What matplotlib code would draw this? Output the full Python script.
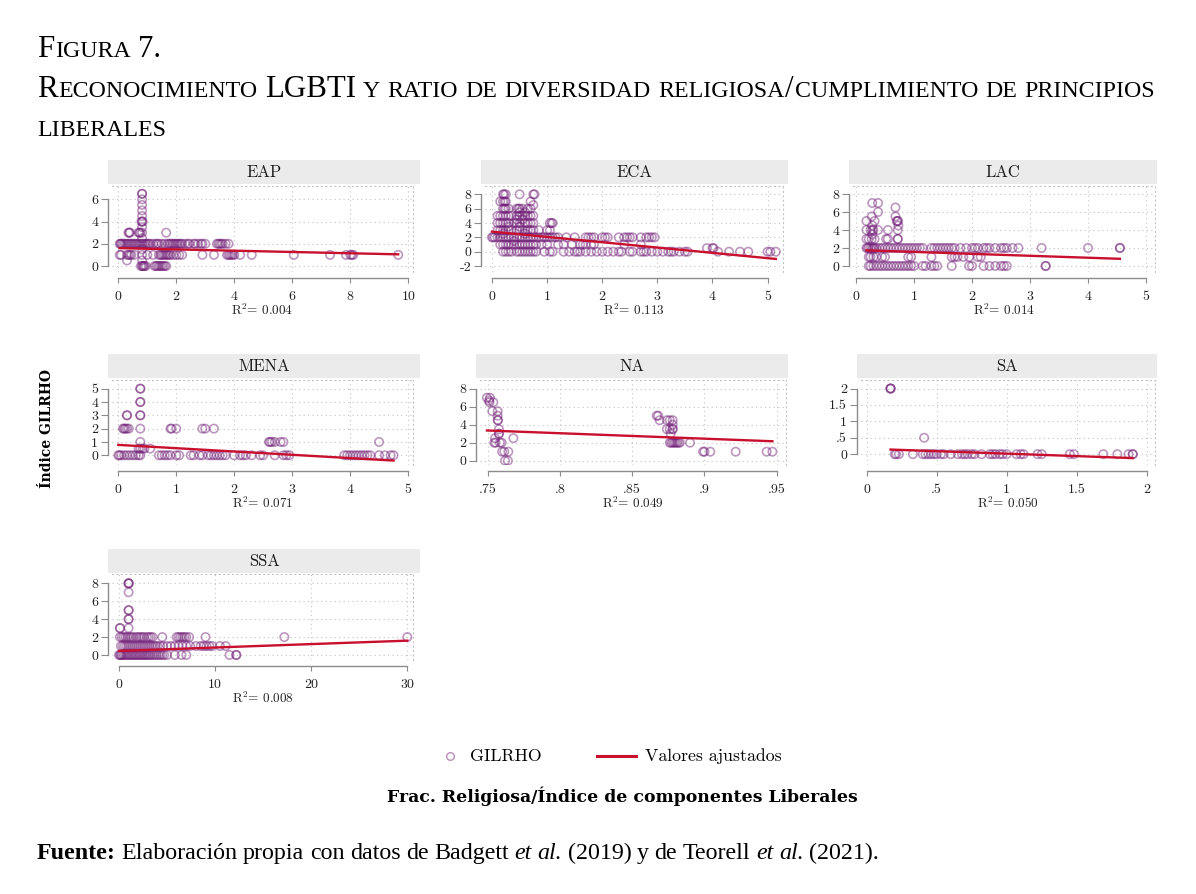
import matplotlib
matplotlib.use('Agg')
import matplotlib.pyplot as plt
from matplotlib.lines import Line2D
from matplotlib.patches import Rectangle

plt.rcParams['mathtext.fontset'] = 'cm'
plt.rcParams['axes.unicode_minus'] = False

W, H = 1196, 894

# ---------------- data ----------------
panels = ['EAP', 'ECA', 'LAC', 'MENA', 'NA', 'SA', 'SSA']
r2_values = ['0.004', '0.113', '0.014', '0.071', '0.049', '0.050', '0.008']

# fitted line: y = a + b*x
fit_a = [1.61, 2.80, 1.78, 0.78, 7.90, 0.166, 0.45]
fit_b = [-0.058, -0.74, -0.216, -0.248, -6.06, -0.15, 0.0383]

# points as (y level, [x values]); repeated x = overlapping observations
eap_rows = [
    (6.5, [0.82, 0.82]), (6.0, [0.82]), (5.5, [0.82]), (5.0, [0.82]),
    (4.5, [0.82]), (4.0, [0.80, 0.82, 0.84]), (3.5, [0.82]),
    (3.0, [0.35, 0.38, 0.40, 0.70, 0.73, 0.76, 0.82, 1.65]), (2.5, [0.82]),
    (2.0, [0.05, 0.08, 0.1, 0.15, 0.2, 0.25, 0.3, 0.35, 0.4, 0.45, 0.5, 0.55,
           0.6, 0.65, 0.7, 0.75, 0.8, 0.85, 0.9, 0.95, 1.0, 1.05, 1.1, 1.2, 1.3,
           1.35, 1.4, 1.5, 1.6, 1.7, 1.75, 1.8, 1.85, 1.9, 1.95, 2.0, 2.05, 2.1,
           2.15, 2.2, 2.3, 2.4, 2.45, 2.6, 2.65, 2.75, 2.85, 2.9, 3.0, 3.4, 3.45,
           3.5, 3.55, 3.6, 3.7, 3.8]),
    (1.5, [0.82]),
    (1.0, [0.05, 0.1, 0.3, 0.35, 0.4, 0.45, 0.55, 0.82, 1.0, 1.2, 1.4, 1.45,
           1.5, 1.55, 1.6, 1.65, 1.7, 1.75, 1.8, 1.9, 2.0, 2.1, 2.2, 2.9, 3.3,
           3.75, 3.8, 3.85, 3.9, 3.95, 4.0, 4.2, 4.6, 6.05, 7.3, 7.85, 8.0, 8.05,
           8.1, 9.65]),
    (0.5, [0.3, 0.82]),
    (0.0, [0.78, 0.82, 0.85, 0.88, 0.9, 0.95, 1.25, 1.3, 1.35, 1.4, 1.45, 1.5,
           1.55, 1.6, 1.65]),
]
eca_rows = [
    (8, [0.2, 0.22, 0.25, 0.5, 0.75, 0.77]), (7, [0.15, 0.2, 0.23, 0.25, 0.7]),
    (6.5, [0.75]),
    (6, [0.2, 0.23, 0.25, 0.3, 0.45, 0.48, 0.5, 0.55, 0.65, 0.7]),
    (5.5, [0.5, 0.6]),
    (5, [0.1, 0.15, 0.2, 0.25, 0.3, 0.35, 0.45, 0.5, 0.55, 0.6, 0.65, 0.7, 0.75]),
    (4.5, [0.45, 0.55]),
    (4, [0.1, 0.15, 0.2, 0.25, 0.3, 0.4, 0.45, 0.5, 0.6, 0.65, 0.7, 0.75, 1.05,
         1.08, 1.1]),
    (3.5, [0.3, 0.5]),
    (3, [0.1, 0.15, 0.2, 0.25, 0.3, 0.35, 0.45, 0.5, 0.55, 0.6, 0.65, 0.7, 0.75,
         0.85, 1.0, 1.05]),
    (2.5, [0.2, 0.6]),
    (2, [0.0, 0.02, 0.05, 0.1, 0.15, 0.2, 0.25, 0.3, 0.35, 0.4, 0.45, 0.5, 0.55,
         0.6, 0.65, 0.7, 0.75, 0.8, 0.85, 0.9, 0.95, 1.0, 1.05, 1.1, 1.15, 1.2,
         1.35, 1.5, 1.7, 1.75, 1.8, 1.85, 2.0, 2.05, 2.1, 2.3, 2.4, 2.45, 2.5,
         2.55, 2.7, 2.8, 2.85, 2.9, 2.95]),
    (1.5, [0.4]),
    (1, [0.15, 0.2, 0.25, 0.3, 0.35, 0.4, 0.45, 0.5, 0.55, 0.6, 0.65, 0.7, 0.75,
         0.8, 0.9, 1.0, 1.2, 1.3, 1.45, 1.6, 1.65, 1.7, 1.8, 1.85, 2.4, 2.7]),
    (0.5, [3.9, 4.0, 4.02]),
    (0, [0.2, 0.25, 0.3, 0.35, 0.45, 0.5, 0.55, 0.6, 0.65, 0.7, 0.75, 0.8, 0.95,
         1.05, 1.1, 1.3, 1.4, 1.5, 1.55, 1.6, 1.7, 1.8, 1.9, 2.0, 2.1, 2.2, 2.3,
         2.35, 2.5, 2.55, 2.7, 2.75, 2.8, 2.9, 3.0, 3.1, 3.2, 3.25, 3.3, 3.4, 3.5,
         3.55, 4.1, 4.3, 4.5, 4.65, 5.0, 5.05, 5.15]),
]
lac_rows = [
    (7, [0.28, 0.38]), (6.5, [0.68]), (6, [0.38]), (5.5, [0.27, 0.68]),
    (5, [0.18, 0.32, 0.7, 0.72, 0.72]), (4.5, [0.28, 0.73]),
    (4, [0.18, 0.25, 0.28, 0.3, 0.38, 0.55, 0.72]), (3.5, [0.28]),
    (3, [0.18, 0.22, 0.27, 0.32, 0.52, 0.55, 0.72, 0.72]),
    (2, [0.18, 0.2, 0.22, 0.25, 0.28, 0.3, 0.32, 0.35, 0.4, 0.45, 0.5, 0.55, 0.6,
         0.65, 0.7, 0.75, 0.8, 0.85, 0.9, 0.95, 1.0, 1.05, 1.1, 1.15, 1.3, 1.35,
         1.4, 1.45, 1.5, 1.55, 1.6, 1.65, 1.7, 1.8, 1.9, 2.0, 2.05, 2.1, 2.2,
         2.25, 2.3, 2.4, 2.5, 2.55, 2.6, 2.7, 2.8, 3.2, 4.0, 4.55, 4.55]),
    (1, [0.22, 0.25, 0.3, 0.35, 0.45, 0.5, 0.9, 0.95, 1.3, 1.65, 1.7, 1.75, 1.85,
         1.95, 2.1, 2.15]),
    (0, [0.22, 0.25, 0.3, 0.35, 0.4, 0.45, 0.5, 0.55, 0.6, 0.65, 0.7, 0.75, 0.8,
         0.85, 0.9, 0.95, 1.0, 1.15, 1.2, 1.3, 1.35, 1.4, 1.65, 1.95, 2.0, 2.2,
         2.3, 2.4, 2.5, 2.55, 2.6, 3.27, 3.27]),
]
mena_rows = [
    (5, [0.38, 0.38]), (4, [0.38, 0.38]), (3, [0.15, 0.15, 0.38, 0.38]),
    (2, [0.08, 0.1, 0.12, 0.15, 0.18, 0.38, 0.9, 0.92, 1.0, 1.45, 1.5, 1.65]),
    (1, [0.38, 2.6, 2.62, 2.65, 2.7, 2.8, 2.85, 4.5]),
    (0.5, [0.35, 0.38, 0.42, 0.45, 0.55]),
    (0, [0.0, 0.02, 0.05, 0.1, 0.15, 0.2, 0.25, 0.3, 0.35, 0.38, 0.7, 0.75, 0.8,
         0.85, 0.9, 1.0, 1.05, 1.25, 1.3, 1.4, 1.45, 1.55, 1.6, 1.65, 1.7, 1.75,
         1.8, 1.85, 2.0, 2.1, 2.15, 2.2, 2.3, 2.45, 2.5, 2.7, 2.85, 2.9, 2.95,
         3.9, 3.95, 4.0, 4.05, 4.1, 4.15, 4.2, 4.25, 4.3, 4.35, 4.5, 4.6, 4.7,
         4.75]),
]
na_rows = [
    (7, [0.7495, 0.7516]), (6.7, [0.751]), (6.5, [0.7512, 0.7539]),
    (5.5, [0.7532, 0.7569]), (5, [0.7569, 0.867, 0.868]),
    (4.5, [0.7569, 0.7572, 0.869, 0.874, 0.876, 0.878]), (4, [0.878]),
    (3.5, [0.7578, 0.874, 0.876, 0.878, 0.878]), (3, [0.7578, 0.7578, 0.8766]),
    (2.5, [0.7551, 0.7678]),
    (2, [0.7546, 0.7555, 0.7585, 0.7597, 0.876, 0.877, 0.878, 0.879, 0.880,
         0.881, 0.882, 0.883, 0.890]),
    (1, [0.760, 0.7615, 0.7643, 0.899, 0.900, 0.904, 0.9216, 0.943, 0.947]),
    (0, [0.762, 0.764]),
]
sa_rows = [
    (2, [0.17, 0.17, 0.17]), (0.5, [0.41]),
    (0, [0.2, 0.21, 0.23, 0.33, 0.4, 0.42, 0.44, 0.46, 0.48, 0.5, 0.53, 0.55,
         0.6, 0.65, 0.68, 0.7, 0.72, 0.75, 0.77, 0.82, 0.88, 0.9, 0.92, 0.95,
         0.97, 1.0, 1.07, 1.1, 1.12, 1.22, 1.25, 1.45, 1.48, 1.69, 1.79, 1.87,
         1.9, 1.9]),
]
ssa_rows = [
    (8, [1.0, 1.0, 1.0]), (7, [1.0]), (5, [1.0, 1.0]), (4, [1.0, 1.0]),
    (3, [0.1, 0.1, 1.0]),
    (2, [0.1, 0.3, 0.5, 0.7, 0.9, 1.1, 1.3, 1.5, 1.8, 2.0, 2.2, 2.4, 2.6, 2.9,
         3.1, 3.3, 3.5, 4.5, 6.0, 6.2, 6.4, 6.6, 6.8, 7.0, 7.3, 9.0, 17.2, 30.0]),
    (1, [0.2, 0.4, 0.6, 0.8, 1.0, 1.2, 1.4, 1.6, 1.8, 2.0, 2.2, 2.4, 2.6, 2.8,
         3.0, 3.2, 3.4, 3.6, 3.8, 4.0, 4.3, 4.6, 5.0, 5.4, 5.8, 6.2, 6.6, 7.0,
         7.4, 8.0, 8.5, 8.8, 9.1, 9.4, 9.7, 10.5, 11.1]),
    (0, [0.0, 0.1, 0.2, 0.3, 0.45, 0.6, 0.75, 0.9, 1.05, 1.2, 1.35, 1.5, 1.65,
         1.8, 1.95, 2.1, 2.25, 2.4, 2.55, 2.7, 2.85, 3.0, 3.15, 3.3, 3.5, 3.7,
         3.9, 4.1, 4.3, 4.5, 4.7, 5.0, 5.8, 6.5, 7.0, 11.5, 12.2, 12.2]),
]
panel_rows = [eap_rows, eca_rows, lac_rows, mena_rows, na_rows, sa_rows, ssa_rows]

x_ticks = [[0, 2, 4, 6, 8, 10], [0, 1, 2, 3, 4, 5], [0, 1, 2, 3, 4, 5],
           [0, 1, 2, 3, 4, 5], [0.75, 0.8, 0.85, 0.9, 0.95], [0, 0.5, 1, 1.5, 2],
           [0, 10, 20, 30]]
x_labels = [['0', '2', '4', '6', '8', '10'], ['0', '1', '2', '3', '4', '5'],
            ['0', '1', '2', '3', '4', '5'], ['0', '1', '2', '3', '4', '5'],
            ['.75', '.8', '.85', '.9', '.95'], ['0', '.5', '1', '1.5', '2'],
            ['0', '10', '20', '30']]
y_ticks = [[0, 2, 4, 6], [-2, 0, 2, 4, 6, 8], [0, 2, 4, 6, 8],
           [0, 1, 2, 3, 4, 5], [0, 2, 4, 6, 8], [0, 0.5, 1, 1.5, 2],
           [0, 2, 4, 6, 8]]
y_labels = [['0', '2', '4', '6'], ['-2', '0', '2', '4', '6', '8'],
            ['0', '2', '4', '6', '8'], ['0', '1', '2', '3', '4', '5'],
            ['0', '2', '4', '6', '8'], ['0', '.5', '1', '1.5', '2'],
            ['0', '2', '4', '6', '8']]
x_lims = [(-0.217, 10.16), (-0.127, 5.28), (-0.052, 5.155), (-0.109, 5.086),
          (0.7447, 0.9564), (-0.041, 2.059), (-0.73, 30.59)]
y_lims = [(-0.54, 7.2), (-2.83, 9.16), (-0.67, 8.89), (-0.73, 5.65),
          (-0.48, 8.97), (-0.33, 2.26), (-0.56, 9.04)]

legend_labels = ['GILRHO', 'Valores ajustados']
x_title = 'Frac. Religiosa/Índice de componentes Liberales'
y_title = 'Índice GILRHO'

# ---------------- layout (pixels) ----------------
# panel: spine x, plot right, strip right, row
layout = [(108, 413, 420, 0), (481, 783, 788, 0), (849, 1155, 1157, 0),
          (108, 413, 420, 1), (476, 786, 788, 1), (857, 1155, 1157, 1),
          (108, 413, 420, 2)]
# row: plot top, plot bottom, strip top
rows_px = [(186, 272, 160), (380, 465, 354), (574, 660, 549)]

PURPLE = '#6E1A74'
RED = '#C8102E'
CM = ['cmr10', 'DejaVu Serif']
SERIF = ['Liberation Serif', 'DejaVu Serif']
AXC = '#8C8C8C'
TXT = '#222222'


def fx(px):
    return px / W


def fy(py):
    return 1 - py / H


fig = plt.figure(figsize=(W / 100, H / 100), dpi=100)

for i, name in enumerate(panels):
    spine, right, sright, row = layout[i]
    top, bottom, stop = rows_px[row]
    ax = fig.add_axes([fx(spine + 4), fy(bottom), (right - spine - 4) / W,
                       (bottom - top) / H])
    # spines first: set_position resets the ticks
    ax.spines['left'].set_position(('outward', 3))
    ax.spines['bottom'].set_position(('outward', 4.3))
    xs, ys = [], []
    for yv, xl in panel_rows[i]:
        xs += xl
        ys += [yv] * len(xl)
    ax.scatter(xs, ys, s=36, facecolors='none', edgecolors=PURPLE, alpha=0.45,
               linewidths=1.2, zorder=2)
    x0, x1 = min(xs), max(xs)
    ax.plot([x0, x1], [fit_a[i] + fit_b[i] * x0, fit_a[i] + fit_b[i] * x1],
            color=RED, lw=1.7, zorder=3)
    ax.set_xlim(x_lims[i])
    ax.set_ylim(y_lims[i])
    ax.set_xticks(x_ticks[i])
    ax.set_xticklabels(x_labels[i], family=CM, fontsize=10, color=TXT)
    ax.set_yticks(y_ticks[i])
    ax.set_yticklabels(y_labels[i], family=CM, fontsize=10, color=TXT)
    ax.tick_params(axis='x', length=3.6, width=0.8, color=AXC, pad=5.5)
    ax.tick_params(axis='y', length=5, width=0.8, color=AXC, pad=2)
    ax.grid(True, color='#C4C4C4', linestyle=(0, (1, 3)), linewidth=0.8)
    ax.set_axisbelow(True)
    ax.spines['left'].set_bounds(y_ticks[i][0], y_ticks[i][-1])
    ax.spines['bottom'].set_bounds(x_ticks[i][0], x_ticks[i][-1])
    for s in ('left', 'bottom'):
        ax.spines[s].set_color(AXC)
        ax.spines[s].set_linewidth(1.0)
    for s in ('top', 'right'):
        ax.spines[s].set_color('#C4C4C4')
        ax.spines[s].set_linestyle((0, (1, 3)))
        ax.spines[s].set_linewidth(0.8)
    ax.set_xlabel('R$^2$= ' + r2_values[i], family=CM, fontsize=9.5,
                  color=TXT, labelpad=0)
    # strip
    fig.add_artist(Rectangle((fx(spine), fy(stop + 24)), (sright - spine) / W,
                             24 / H, transform=fig.transFigure,
                             facecolor='#EBEBEB', edgecolor='none'))
    fig.text(fx((spine + sright) / 2), fy(stop + 12), name, family=CM,
             fontsize=12, ha='center', va='center', color='#1a1a1a')

# legend (placed by hand, like the Stata key)
fig.add_artist(Line2D([fx(450)], [fy(756)], transform=fig.transFigure,
                      marker='o', ls='none', markerfacecolor='none',
                      markeredgecolor=PURPLE, alpha=0.45, markersize=5.5,
                      markeredgewidth=1.1))
fig.text(fx(470), fy(756), legend_labels[0], family=CM, fontsize=12.8,
         ha='left', va='center')
fig.add_artist(Line2D([fx(597), fx(636)], [fy(756), fy(756)],
                      transform=fig.transFigure, color=RED, lw=2.2))
fig.text(fx(645), fy(756), legend_labels[1], family=CM, fontsize=12.8,
         ha='left', va='center')

renderer = fig.canvas.get_renderer()


def fitted_text(x, y, s, width, size=12, **kw):
    t = fig.text(fx(x), fy(y), s, fontsize=size, **kw)
    ext = t.get_window_extent(renderer)
    span = ext.height if kw.get('rotation') else ext.width
    t.set_fontsize(size * width / span)
    return t


fitted_text(622, 796, x_title, 469, family='DejaVu Serif', weight='bold',
            ha='center', va='center')
fitted_text(47, 428, y_title, 118, family='DejaVu Serif', weight='bold',
            rotation=90, ha='center', va='center')

# ---------------- title / footer text runs ----------------


def smallcaps(text, big, small):
    words = []
    for w in text.split(' '):
        runs = []
        for ch in w:
            if ch.islower():
                size, c = small, ch.upper()
            else:
                size, c = big, ch
            if runs and runs[-1][1] == size:
                runs[-1][0] += c
            else:
                runs.append([c, size, 'normal', 'normal'])
        words.append(runs)
    return words


def draw_words(x, y, words, gap, k=1.0, kern=0.8):
    cx = x
    arts = []
    for wi, runs in enumerate(words):
        if wi:
            cx += gap * k
        for ri, (text, size, weight, style) in enumerate(runs):
            if ri:
                cx += kern * k
            t = fig.text(fx(cx), fy(y), text, fontsize=size * k, family=SERIF,
                         weight=weight, style=style, va='baseline', ha='left')
            cx += t.get_window_extent(renderer).width
            arts.append(t)
    return cx - x, arts


def draw_fit(x, y, words, gap, target):
    width, arts = draw_words(x, y, words, gap)
    for a in arts:
        a.remove()
    k = target / width
    draw_words(x, y, words, gap, k)
    return k


BIG, SMALL = 20, 15.5
line2 = smallcaps('Reconocimiento LGBTI y ratio de diversidad '
                  'religiosa/cumplimiento de principios', BIG, SMALL)
k = draw_fit(37, 97, line2, 6.5, 1113)
draw_words(37, 57, smallcaps('Figura 7.', BIG, SMALL), 6.5, k)
draw_words(37, 136, smallcaps('liberales', BIG, SMALL), 6.5, k)

footer_parts = [('Fuente:', 'bold', 'normal'),
                ('Elaboración propia con datos de Badgett', 'normal', 'normal'),
                ('et al.', 'normal', 'italic'),
                ('(2019) y de Teorell', 'normal', 'normal'),
                ('et al.', 'normal', 'italic'),
                ('(2021).', 'normal', 'normal')]
footer_words = []
for text, weight, style in footer_parts:
    for w in text.split(' '):
        footer_words.append([[w, 14, weight, style]])
draw_fit(37, 859, footer_words, 4.5, 848)

fig.savefig('out.png', dpi=100)
